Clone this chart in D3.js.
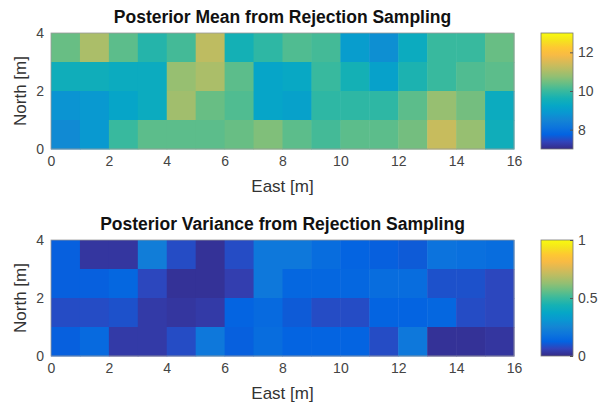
<!DOCTYPE html>
<html>
<head>
<meta charset="utf-8">
<script src="https://cdn.jsdelivr.net/npm/d3@7"></script>
<style>
  body { margin: 0; background: #fff; }
  text { font-family: "Liberation Sans", Arial, sans-serif; }
</style>
</head>
<body>
<div id="chart"></div>
<script>
// grid of 1 m cells, 16 east x 4 north
const eastCells = d3.range(16);
const northCells = d3.range(4);

// posterior mean, rows listed from north=3..4 down to north=0..1
const meanValues = [
  [10.4, 11.0, 10.3, 9.8, 10.1, 11.2, 9.6, 9.9, 10.2, 10.1, 9.0, 8.7, 9.4, 10.0, 10.0, 10.4],
  [9.5, 9.5, 9.4, 9.4, 10.8, 11.0, 10.3, 9.2, 9.3, 10.0, 9.6, 9.1, 9.7, 10.0, 10.2, 10.3],
  [8.8, 8.9, 9.2, 9.4, 10.9, 10.4, 10.2, 9.2, 9.1, 9.9, 9.9, 9.9, 10.3, 10.8, 10.5, 9.4],
  [8.6, 8.9, 10.0, 10.3, 10.3, 10.3, 10.4, 10.6, 10.3, 10.1, 10.3, 10.3, 10.5, 11.3, 10.8, 9.5]
];

// posterior variance, same layout
const varValues = [
  [0.12, 0.03, 0.03, 0.22, 0.08, 0.02, 0.08, 0.20, 0.20, 0.16, 0.13, 0.12, 0.11, 0.18, 0.17, 0.16],
  [0.12, 0.12, 0.14, 0.07, 0.02, 0.02, 0.05, 0.20, 0.14, 0.14, 0.14, 0.16, 0.16, 0.09, 0.09, 0.07],
  [0.08, 0.08, 0.09, 0.04, 0.03, 0.04, 0.13, 0.15, 0.11, 0.08, 0.08, 0.13, 0.13, 0.14, 0.08, 0.07],
  [0.12, 0.15, 0.04, 0.04, 0.08, 0.20, 0.12, 0.16, 0.13, 0.13, 0.13, 0.08, 0.20, 0.02, 0.02, 0.03]
];

const xTicks = [0, 2, 4, 6, 8, 10, 12, 14, 16];
const yTicks = [0, 2, 4];
const meanTicks = [8, 10, 12];
const varTicks = [0, 0.5, 1];

// parula colormap (sampled)
const parula = [
  [0.2081, 0.1663, 0.5292], [0.1959, 0.2645, 0.7279], [0.0117, 0.3875, 0.8820],
  [0.0498, 0.4586, 0.8641], [0.0793, 0.5200, 0.8312], [0.0343, 0.5966, 0.8199],
  [0.0228, 0.6535, 0.7768], [0.0843, 0.6928, 0.7062], [0.2178, 0.7250, 0.6193],
  [0.3953, 0.7459, 0.5244], [0.5709, 0.7485, 0.4494], [0.7184, 0.7411, 0.3905],
  [0.8507, 0.7299, 0.3360], [0.9739, 0.7314, 0.2666], [0.9955, 0.7861, 0.1967],
  [0.9589, 0.8949, 0.1132], [0.9763, 0.9831, 0.0538]
].map(c => d3.rgb(c[0] * 255, c[1] * 255, c[2] * 255));
const parulaInterp = d3.piecewise(d3.interpolateRgb, parula);

const width = 598;
const height = 408;

const svg = d3.select("#chart")
  .append("svg")
  .attr("width", width)
  .attr("height", height);

const defs = svg.append("defs");

function drawPanel(opts) {
  const x = d3.scaleLinear().domain([0, 16]).range([51, 514]);
  const y = d3.scaleLinear().domain([0, 4]).range([opts.top + 116, opts.top]);
  const color = d3.scaleSequential(parulaInterp).domain(opts.domain);

  const g = svg.append("g");

  // cells
  const cells = [];
  opts.values.forEach((row, ri) => {
    row.forEach((v, ci) => {
      cells.push({ e: eastCells[ci], n: northCells[3 - ri], v: v });
    });
  });

  g.selectAll("rect.cell")
    .data(cells)
    .enter()
    .append("rect")
    .attr("class", "cell")
    .attr("x", d => x(d.e))
    .attr("y", d => y(d.n + 1))
    .attr("width", d => x(d.e + 1) - x(d.e) + 0.5)
    .attr("height", d => y(d.n) - y(d.n + 1) + 0.5)
    .attr("fill", d => color(d.v));

  // box
  g.append("rect")
    .attr("x", x(0)).attr("y", y(4))
    .attr("width", x(16) - x(0)).attr("height", y(0) - y(4))
    .attr("fill", "none").attr("stroke", "#999").attr("stroke-width", 0.8);

  // axes
  const xAxis = g.append("g")
    .attr("transform", `translate(0,${y(0)})`)
    .call(d3.axisBottom(x).tickValues(xTicks).tickSize(0).tickPadding(7)
      .tickFormat(d3.format("d")));
  const yAxis = g.append("g")
    .attr("transform", `translate(${x(0)},0)`)
    .call(d3.axisLeft(y).tickValues(yTicks).tickSize(0).tickPadding(7)
      .tickFormat(d3.format("d")));
  [xAxis, yAxis].forEach(a => {
    a.select(".domain").remove();
    a.selectAll("text").attr("fill", "#444").style("font-size", "14px")
      .style("font-family", "'Liberation Sans', Arial, sans-serif");
  });

  // labels
  g.append("text")
    .attr("x", (x(0) + x(16)) / 2)
    .attr("y", opts.top - 10)
    .attr("text-anchor", "middle")
    .style("font-size", "17.5px")
    .style("font-weight", "bold")
    .attr("fill", "#111")
    .text(opts.title);

  g.append("text")
    .attr("x", (x(0) + x(16)) / 2)
    .attr("y", y(0) + 43)
    .attr("text-anchor", "middle")
    .style("font-size", "17px")
    .attr("fill", "#333")
    .text("East [m]");

  g.append("text")
    .attr("transform", `translate(26,${(y(0) + y(4)) / 2}) rotate(-90)`)
    .attr("text-anchor", "middle")
    .style("font-size", "17px")
    .attr("fill", "#333")
    .text("North [m]");

  // colorbar
  const cb = d3.scaleLinear().domain(opts.domain).range([y(0), y(4)]);
  const gradId = "grad" + opts.top;
  const grad = defs.append("linearGradient")
    .attr("id", gradId)
    .attr("x1", 0).attr("y1", 1).attr("x2", 0).attr("y2", 0);
  grad.selectAll("stop")
    .data(d3.range(0, 1.0001, 1 / 32))
    .enter()
    .append("stop")
    .attr("offset", d => d)
    .attr("stop-color", d => parulaInterp(d));

  g.append("rect")
    .attr("x", 541).attr("y", y(4))
    .attr("width", 32).attr("height", y(0) - y(4))
    .attr("fill", `url(#${gradId})`)
    .attr("stroke", "#777").attr("stroke-width", 0.8);

  const cbAxis = g.append("g")
    .attr("transform", "translate(573,0)")
    .call(d3.axisRight(cb).tickValues(opts.ticks).tickSize(-3).tickPadding(5)
      .tickFormat(d3.format("~g")));
  cbAxis.select(".domain").remove();
  cbAxis.selectAll("line").attr("stroke", "#555");
  cbAxis.selectAll("text").attr("fill", "#444").style("font-size", "14px")
    .style("font-family", "'Liberation Sans', Arial, sans-serif");
}

drawPanel({ top: 33, values: meanValues, domain: [7, 13], ticks: meanTicks,
  title: "Posterior Mean from Rejection Sampling" });
drawPanel({ top: 240, values: varValues, domain: [0, 1], ticks: varTicks,
  title: "Posterior Variance from Rejection Sampling" });
</script>
</body>
</html>
